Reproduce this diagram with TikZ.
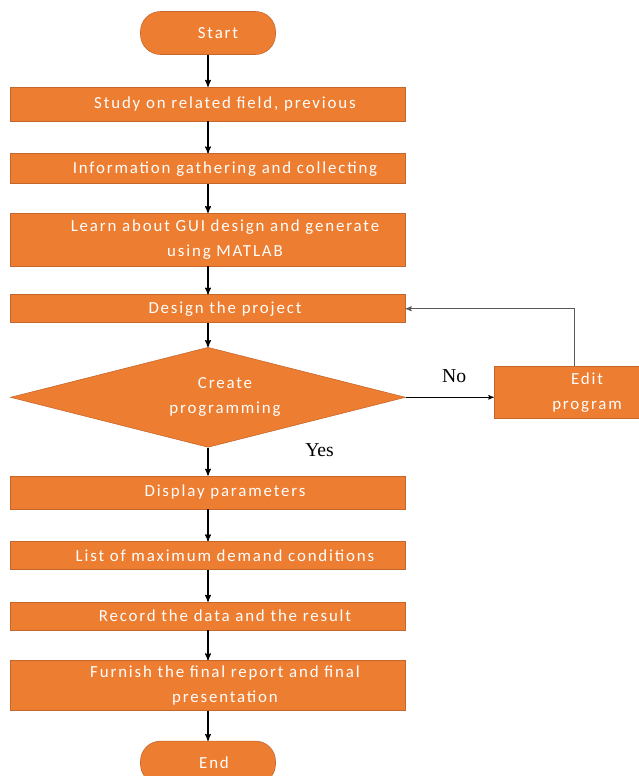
\documentclass[tikz,border=0pt]{standalone}
\usepackage{fontspec}
\setmainfont{Carlito}
\newfontfamily\boxfont[LetterSpace=11]{Carlito}
\newfontfamily\labelfont{Liberation Serif}
\usetikzlibrary{arrows, shapes, positioning}

\definecolor{boxorange}{HTML}{ED7D31}
\definecolor{boxline}{HTML}{C5662A}
\newcommand{\ind}{\hspace*{0.85cm}}

\begin{document}
\begin{tikzpicture}[->,>=stealth',shorten >=0pt,line width=0.8pt,
 stage box/.style={rectangle,draw=boxline,line width=0.4pt,fill=boxorange,text=white,
   minimum width=9.875cm,align=center,font=\boxfont\fontsize{12}{18}\selectfont},
 term node/.style={rectangle,rounded corners=0.5cm,draw=boxline,line width=0.4pt,fill=boxorange,
   text=white,minimum width=3.375cm,minimum height=1.075cm,font=\boxfont\fontsize{12}{18}\selectfont},
 test node/.style={diamond,aspect=3.95,draw=boxline,line width=0.4pt,fill=boxorange,text=white,inner sep=0pt,
   minimum width=9.875cm,minimum height=2.5cm,align=center,font=\boxfont\fontsize{12}{18}\selectfont},
 answer/.style={text=black,font=\labelfont\fontsize{14}{16}\selectfont}]

  \useasboundingbox (0,0) rectangle (15.95,-19.4);

  \node[term node] (start) at (5.2,-0.825) {\hspace*{0.5cm}Start};
  \node[stage box,minimum height=0.85cm] (study) [below=0.8cm of start] {\ind Study on related field, previous};
  \node[stage box,minimum height=0.75cm] (info) [below=0.8cm of study] {\ind Information gathering and collecting};
  \node[stage box,minimum height=1.325cm] (learn) [below=0.725cm of info] {\ind Learn about GUI design and generate\\ \ind using MATLAB};
  \node[stage box,minimum height=0.7cm] (design) [below=0.7cm of learn] {\ind Design the project};
  \node[test node] (create) [below=0.6cm of design] {\ind Create\\ \ind programming};
  \node[stage box,minimum width=4.65cm,minimum height=1.3cm] (edit) [right=2.2cm of create,yshift=0.125cm] {Edit\\ program};
  \node[stage box,minimum height=0.825cm] (display) [below=0.7cm of create] {\ind Display parameters};
  \node[stage box,minimum height=0.7cm] (list) [below=0.8cm of display] {\ind List of maximum demand conditions};
  \node[stage box,minimum height=0.7cm] (record) [below=0.8cm of list] {\ind Record the data and the result};
  \node[stage box,minimum height=1.25cm] (furnish) [below=0.75cm of record] {\ind Furnish the final report and final\\ \ind presentation};
  \node[term node] (end) [below=0.75cm of furnish] {\hspace*{0.3cm}End};

  \foreach \s/\t in {start/study, study/info, info/learn, learn/design, design/create,
    display/list, list/record, record/furnish, furnish/end} {
   \draw (\s) -- (\t);}

  \draw (create) -- node[answer,pos=0.1,right=2.3cm] {Yes} (display);
  \draw[line width=0.5pt] (create.east) -- node[answer,pos=0.55,above=0.25cm] {No} (create.east -| edit.west);
  \draw[gray!70!black,line width=0.6pt] ([xshift=-0.325cm]edit.north) |- (design.east);

\end{tikzpicture}
\end{document}
